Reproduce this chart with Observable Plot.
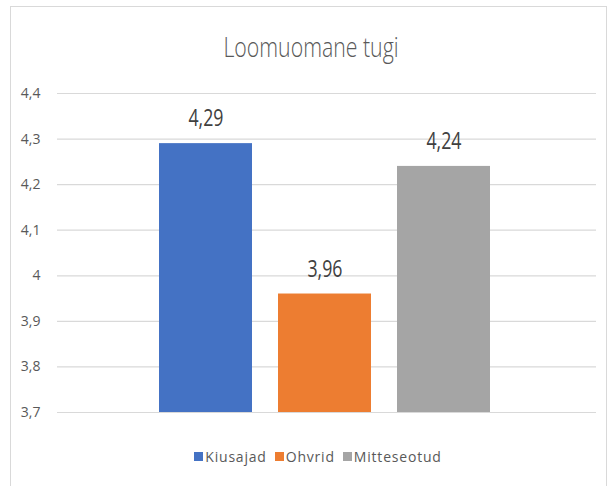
<!DOCTYPE html>
<html>
<head>
<meta charset="utf-8">
<script src="https://cdn.jsdelivr.net/npm/d3@7"></script>
<script src="https://cdn.jsdelivr.net/npm/@observablehq/plot@0.6"></script>
<style>
  body { margin: 0; background: #fff; }
  #wrap { position: relative; width: 610px; height: 486px; overflow: hidden; font-family: "Open Sans", sans-serif; }
  #frame { position: absolute; left: 10px; top: 6px; width: 597px; height: 520px; border: 1px solid #d9d9d9; box-sizing: border-box; }
  #title { position: absolute; left: 0; width: 622px; top: 27px; text-align: center; font-size: 28px; line-height: 38px; font-weight: 300; color: #595959; transform: scaleX(0.76); transform-origin: 311px 0; }
  #chart { position: absolute; left: 0; top: 0; }
  #legend { position: absolute; left: 0; width: 636px; top: 447px; line-height: 19px; display: flex; justify-content: center; gap: 8px; font-size: 14px; letter-spacing: 0.8px; color: #595959; }
  .item { display: flex; align-items: center; gap: 2px; }
  .sw { width: 9px; height: 9px; display: inline-block; }
</style>
</head>
<body>
<div id="wrap">
  <div id="frame"></div>
  <div id="title"></div>
  <div id="chart"></div>
  <div id="legend"></div>
</div>
<script>
const title = "Loomuomane tugi";
const categories = ["Kiusajad", "Ohvrid", "Mitteseotud"];
const values = [4.29, 3.96, 4.24];
const colors = ["#4472C4", "#ED7D31", "#A5A5A5"];
const yTicks = [3.7, 3.8, 3.9, 4.0, 4.1, 4.2, 4.3, 4.4];

const data = categories.map((c, i) => ({category: c, value: values[i]}));
const comma = d => String(d).replace(".", ",");

document.getElementById("title").textContent = title;

const chart = Plot.plot({
  width: 610,
  height: 486,
  marginLeft: 57,
  marginRight: 14,
  marginTop: 93,
  marginBottom: 74,
  style: {fontFamily: "Open Sans, sans-serif", background: "transparent"},
  x: {domain: categories, range: [158, 491], paddingInner: 0.217, paddingOuter: 0, axis: null},
  y: {domain: [3.7, 4.4], ticks: yTicks, tickFormat: comma, label: null, tickSize: 0, tickPadding: 17},
  color: {domain: categories, range: colors},
  marks: [
    Plot.ruleY(yTicks, {stroke: "#d9d9d9", strokeWidth: 1.2}),
    Plot.barY(data, {x: "category", y1: 3.7, y2: "value", fill: "category"}),
    Plot.text(data, {x: "category", y: "value", text: d => comma(d.value), dy: -25, fontSize: 24, fill: "#404040"}),
    Plot.axisY({ticks: yTicks, tickFormat: comma, tickSize: 0, tickPadding: 17, fontSize: 14, fill: "#595959", label: null})
  ]
});

// condense the value labels horizontally (narrow chart font look)
d3.select(chart).selectAll('g[aria-label="text"] text').each(function () {
  const el = d3.select(this);
  const t = el.attr("transform");
  if (t) {
    el.attr("transform", t + " scale(0.74,1)");
  } else {
    const x = +el.attr("x") || 0, y = +el.attr("y") || 0;
    el.attr("x", null).attr("y", null).attr("transform", `translate(${x},${y}) scale(0.74,1)`);
  }
});

document.getElementById("chart").appendChild(chart);

const legend = document.getElementById("legend");
categories.forEach((c, i) => {
  const item = document.createElement("div");
  item.className = "item";
  const sw = document.createElement("span");
  sw.className = "sw";
  sw.style.background = colors[i];
  const lab = document.createElement("span");
  lab.textContent = c;
  item.appendChild(sw);
  item.appendChild(lab);
  legend.appendChild(item);
});
</script>
</body>
</html>
